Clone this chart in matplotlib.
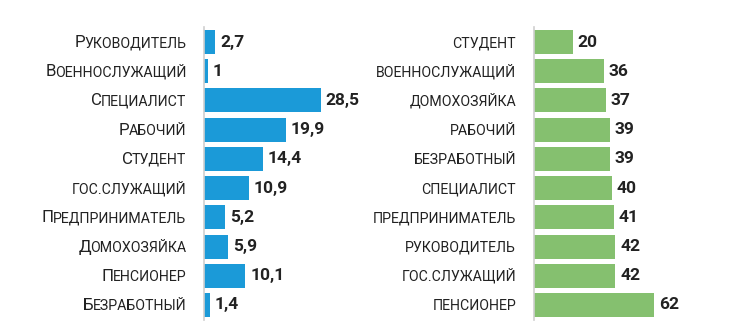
import matplotlib
matplotlib.use('Agg')
import matplotlib.pyplot as plt
from matplotlib import transforms

plt.rcParams['font.family'] = ['Roboto', 'DejaVu Sans']

# левая панель: доля по роду занятий
left_labels = ['Руководитель', 'Военнослужащий', 'Специалист', 'Рабочий', 'Студент',
               'гос.служащий', 'Предприниматель', 'Домохозяйка', 'Пенсионер', 'Безработный']
left_values = [2.7, 1, 28.5, 19.9, 14.4, 10.9, 5.2, 5.9, 10.1, 1.4]

# правая панель: средний возраст
right_labels = ['студент', 'военнослужащий', 'домохозяйка', 'рабочий', 'безработный',
                'специалист', 'предприниматель', 'руководитель', 'гос.служащий', 'пенсионер']
right_values = [20, 36, 37, 39, 39, 40, 41, 42, 42, 62]

BLUE = '#1b9ad8'
GREEN = '#85c06f'
TEXT = '#222222'
DPI = 100
W, H = 750, 336

fig = plt.figure(figsize=(W / DPI, H / DPI), dpi=DPI)
renderer = fig.canvas.get_renderer()


def px_axes(x0, width):
    top, bottom = 27.4, 319.6
    return fig.add_axes([x0 / W, (H - bottom) / H, width / W, (bottom - top) / H])


def smallcaps(ax, y, text, gap=18, big=12.2, small=10.2):
    """Надпись капителью: заглавная буква крупнее, остальные строчные как уменьшенные прописные."""
    base = transforms.blended_transform_factory(ax.transAxes, ax.transData)
    if text[0].isupper():
        head, rest = text[0], text[1:].upper()
    else:
        head, rest = '', text.upper()
    tr = transforms.offset_copy(base, fig, x=-gap, y=-5.0, units='dots')
    t = ax.text(0, y, rest, transform=tr, ha='right', va='baseline',
                fontsize=small, color=TEXT, clip_on=False)
    if head:
        bb = t.get_window_extent(renderer)
        fig.text(bb.x0 / W, 0, head, ha='right', va='baseline', fontsize=big, color=TEXT,
                 transform=transforms.blended_transform_factory(fig.transFigure, t.get_transform()),
                 ).set_position(((bb.x0 + 1.0) / W, y))


def panel(ax, labels, values, color, xmax, fmt):
    y = list(range(len(values)))
    ax.barh(y, values, height=0.82, color=color)
    ax.set_ylim(len(values) - 0.5, -0.5)
    ax.set_xlim(0, xmax)
    for s in ['top', 'right', 'bottom']:
        ax.spines[s].set_visible(False)
    ax.spines['left'].set_color('#cfcfcf')
    ax.spines['left'].set_linewidth(1.2)
    ax.set_xticks([])
    ax.set_yticks([])
    ax.patch.set_alpha(0)
    for i, v in enumerate(values):
        ax.annotate(fmt(v), (v, i), xytext=(3.5, 0), textcoords='offset points',
                    ha='left', va='center', fontsize=12.5, fontweight='bold',
                    color=TEXT, annotation_clip=False)
    for i, lab in enumerate(labels):
        smallcaps(ax, i, lab)


ax1 = px_axes(204, 150)
panel(ax1, left_labels, left_values, BLUE, 150 / 4.1,
      lambda v: f'{v:g}'.replace('.', ','))

ax2 = px_axes(534, 150)
panel(ax2, right_labels, right_values, GREEN, 150 / 1.94, lambda v: f'{v:g}')

fig.savefig('out.png', dpi=DPI)
